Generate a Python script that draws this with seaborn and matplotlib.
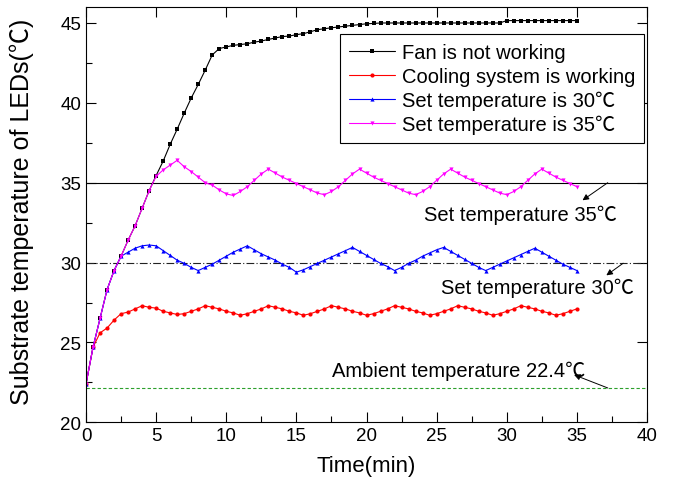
import matplotlib
matplotlib.use("Agg")
import matplotlib.pyplot as plt
import seaborn as sns

# time axis (min), one reading every half minute
time_min = [0, 0.5, 1, 1.5, 2, 2.5, 3, 3.5, 4, 4.5,
            5, 5.5, 6, 6.5, 7, 7.5, 8, 8.5, 9, 9.5,
            10, 10.5, 11, 11.5, 12, 12.5, 13, 13.5, 14, 14.5,
            15, 15.5, 16, 16.5, 17, 17.5, 18, 18.5, 19, 19.5,
            20, 20.5, 21, 21.5, 22, 22.5, 23, 23.5, 24, 24.5,
            25, 25.5, 26, 26.5, 27, 27.5, 28, 28.5, 29, 29.5,
            30, 30.5, 31, 31.5, 32, 32.5, 33, 33.5, 34, 34.5,
            35]

# Fan is not working
fan_off = [22.4, 24.7, 26.5, 28.3, 29.5, 30.4, 31.4, 32.3, 33.4, 34.5,
           35.45, 36.35, 37.4, 38.35, 39.35, 40.3, 41.15, 42.05, 43.0, 43.4,
           43.5, 43.6, 43.65, 43.7, 43.8, 43.87, 43.97, 44.06, 44.15, 44.18,
           44.27, 44.33, 44.45, 44.58, 44.64, 44.7, 44.75, 44.8, 44.85, 44.9,
           44.95, 44.97, 45.0, 45.0, 45.0, 45.0, 45.0, 45.0, 45.0, 45.0,
           45.0, 45.0, 45.0, 45.0, 45.0, 45.0, 45.0, 45.0, 45.0, 45.0,
           45.15, 45.15, 45.15, 45.15, 45.15, 45.15, 45.15, 45.15, 45.15, 45.15,
           45.15]

# Cooling system is working
cooling_on = [22.4, 24.7, 25.6, 25.9, 26.4, 26.8, 26.9, 27.1, 27.3, 27.2,
              27.15, 26.95, 26.85, 26.75, 26.8, 26.95, 27.1, 27.3, 27.2, 27.1,
              26.95, 26.85, 26.7, 26.8, 26.95, 27.1, 27.3, 27.2, 27.1, 26.95,
              26.85, 26.7, 26.8, 26.95, 27.1, 27.3, 27.2, 27.1, 26.95, 26.85,
              26.7, 26.8, 26.95, 27.1, 27.3, 27.2, 27.1, 26.95, 26.85, 26.7,
              26.8, 26.95, 27.1, 27.3, 27.2, 27.1, 26.95, 26.85, 26.7, 26.8,
              26.95, 27.1, 27.3, 27.2, 27.1, 26.95, 26.85, 26.7, 26.8, 26.95,
              27.1]

# Set temperature is 30
set_30 = [22.4, 24.7, 26.5, 28.3, 29.5, 30.4, 30.65, 30.9, 31.05, 31.1,
          31.05, 30.75, 30.45, 30.15, 29.95, 29.7, 29.5, 29.7, 29.9, 30.15,
          30.4, 30.65, 30.85, 31.05, 30.8, 30.55, 30.35, 30.15, 29.9, 29.7,
          29.4, 29.55, 29.75, 29.95, 30.15, 30.35, 30.55, 30.75, 30.95, 30.7,
          30.45, 30.2, 29.95, 29.75, 29.5, 29.7, 29.95, 30.15, 30.4, 30.6,
          30.8, 30.95, 30.7, 30.45, 30.2, 29.95, 29.7, 29.5, 29.7, 29.9,
          30.1, 30.3, 30.5, 30.7, 30.9, 30.65, 30.4, 30.15, 29.9, 29.7,
          29.5]

# Set temperature is 35
set_35 = [22.4, 24.7, 26.5, 28.3, 29.5, 30.4, 31.4, 32.3, 33.4, 34.5,
          35.4, 35.8, 36.1, 36.4, 36.0, 35.7, 35.35, 35.0, 34.85, 34.55,
          34.3, 34.2, 34.45, 34.75, 35.15, 35.55, 35.85, 35.6, 35.35, 35.15,
          34.95, 34.75, 34.55, 34.35, 34.25, 34.45, 34.75, 35.15, 35.55, 35.85,
          35.6, 35.35, 35.15, 34.95, 34.75, 34.55, 34.35, 34.25, 34.45, 34.75,
          35.15, 35.55, 35.85, 35.6, 35.35, 35.15, 34.95, 34.75, 34.55, 34.35,
          34.25, 34.45, 34.75, 35.15, 35.55, 35.85, 35.6, 35.35, 35.15, 34.95,
          34.75]

# reference lines
set_line_35 = 35
set_line_30 = 30
ambient_line = 22.15

sns.set_style("ticks")
plt.rcParams["font.family"] = ["Liberation Sans", "Noto Sans CJK SC", "DejaVu Sans"]
plt.rcParams["xtick.direction"] = "in"
plt.rcParams["ytick.direction"] = "in"
plt.rcParams["text.color"] = "black"
plt.rcParams["axes.labelcolor"] = "black"
plt.rcParams["xtick.color"] = "black"
plt.rcParams["ytick.color"] = "black"

fig = plt.figure(figsize=(6.73, 4.85), dpi=100)
ax = fig.add_axes([0.1278, 0.1272, 0.8336, 0.8563])

ax.axhline(set_line_35, color="black", lw=0.8, zorder=1)
ax.axhline(set_line_30, color="#222222", lw=0.8, ls=(0, (7, 2, 1, 2)), zorder=1)
ax.axhline(ambient_line, color="#2ca02c", lw=0.8, ls=(0, (3, 2)), zorder=1)

series = [
    (fan_off, "black", "s", "Fan is not working"),
    (cooling_on, "red", "o", "Cooling system is working"),
    (set_30, "blue", "^", "Set temperature is 30℃"),
    (set_35, "magenta", "v", "Set temperature is 35℃"),
]
for vals, col, mk, lab in series:
    sns.lineplot(x=time_min, y=vals, ax=ax, color=col, marker=mk, markersize=3,
                 markeredgewidth=0, linewidth=0.8, label=lab)

ax.set_xlim(0, 40)
ax.set_ylim(20, 46)
ax.set_xticks([0, 5, 10, 15, 20, 25, 30, 35, 40])
ax.set_xticks([2.5, 7.5, 12.5, 17.5, 22.5, 27.5, 32.5, 37.5], minor=True)
ax.set_yticks([20, 25, 30, 35, 40, 45])
ax.set_yticks([22.5, 27.5, 32.5, 37.5, 42.5], minor=True)
ax.tick_params(which="major", length=7, width=0.8, labelsize=13.5, top=True, right=True)
ax.tick_params(which="minor", length=4, width=0.8, top=False, right=False)
for sp in ax.spines.values():
    sp.set_visible(True)
    sp.set_linewidth(0.8)
    sp.set_color("black")

ax.set_xlabel("Time(min)", fontsize=16, labelpad=8)
ax.set_ylabel("Substrate temperature of LEDs(℃)", fontsize=18)
ax.yaxis.set_label_coords(-0.093, 0.51)

# annotations
ax.text(31.0, 33.05, "Set temperature 35℃", fontsize=14.5, ha="center", va="center")
ax.text(32.2, 28.46, "Set temperature 30℃", fontsize=14.5, ha="center", va="center")
ax.text(26.6, 23.28, "Ambient temperature 22.4℃", fontsize=14.5, ha="center", va="center")
arrow = dict(arrowstyle="-|>", color="black", lw=0.7, mutation_scale=9, shrinkA=0, shrinkB=0)
ax.annotate("", xy=(35.4, 33.9), xytext=(37.2, 35.0), arrowprops=arrow)
ax.annotate("", xy=(37.1, 29.2), xytext=(38.3, 29.96), arrowprops=arrow)
ax.annotate("", xy=(34.8, 22.97), xytext=(37.2, 22.15), arrowprops=arrow)

leg = ax.legend(loc="upper right", bbox_to_anchor=(0.995, 0.935), borderaxespad=0,
                fontsize=14.5, frameon=True, fancybox=False, framealpha=1,
                handlelength=2.25, handletextpad=0.35, labelspacing=0.23, borderpad=0.45)
leg.get_frame().set_edgecolor("black")
leg.get_frame().set_linewidth(0.8)

fig.savefig("out.png", dpi=100)
